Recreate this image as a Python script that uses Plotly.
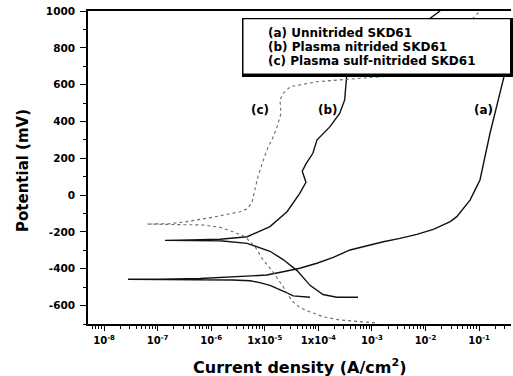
import plotly.graph_objects as go

# ---------------- data ----------------
# (a) Unnitrided SKD61  -- cathodic branch (right -> Ecorr), then anodic branch
a_current = [7.0e-5, 3.4e-5, 2.2e-5, 1.25e-5, 8.1e-6, 5.3e-6, 2.55e-6, 6.2e-7, 1.11e-7, 2.8e-8,
             1.11e-7, 6.2e-7, 2.55e-6, 1.09e-5, 2.2e-5, 4.5e-5, 9.4e-5, 1.90e-4, 3.90e-4, 8.1e-4,
             1.63e-3, 3.34e-3, 6.9e-3, 1.40e-2, 2.9e-2, 3.83e-2, 5.0e-2, 6.78e-2, 9.04e-2, 0.104,
             0.160, 0.226, 0.292, 0.469]
a_potential = [-555, -547, -522, -490, -475, -465, -461, -459, -458, -457,
               -456, -453, -443, -434, -416, -397, -370, -338, -298, -275,
               -253, -235, -213, -186, -144, -117, -77, -27, 46, 82,
               336, 517, 643, 1000]

# (b) Plasma nitrided SKD61
b_current = [5.5e-4, 2.2e-4, 1.22e-4, 7.0e-5, 4.0e-5, 2.2e-5, 1.25e-5, 8.1e-6, 4.7e-6, 1.46e-6,
             4.0e-7, 1.37e-7,
             4.0e-7, 1.46e-6, 4.7e-6, 1.25e-5, 2.6e-5, 4.5e-5, 5.87e-5, 5.0e-5, 5.87e-5, 7.9e-5,
             9.4e-5, 1.65e-4, 2.5e-4, 3.1e-4, 3.4e-4, 3.4e-4, 1.42e-3, 1.87e-2]
b_potential = [-555, -555, -540, -490, -410, -350, -305, -285, -262, -248,
               -247, -246,
               -244, -240, -226, -171, -90, 10, 70, 130, 170, 227,
               299, 372, 444, 517, 625, 660, 760, 1000]

# (c) Plasma sulf-nitrided SKD61
c_current = [1.14e-3, 5.3e-4, 2.5e-4, 1.22e-4, 7.0e-5, 4.5e-5, 3.22e-5, 2.2e-5, 1.36e-5, 9.3e-6,
             6.56e-6, 4.3e-6, 2.55e-6, 1.46e-6, 7.0e-7, 2.1e-7, 6.3e-8,
             1.70e-7, 3.5e-7, 1.08e-6, 3.44e-6, 4.7e-6, 5.77e-6, 6.3e-6, 7.46e-6, 8.87e-6,
             1.15e-5, 1.36e-5, 1.7e-5, 2.01e-5, 1.92e-5, 2.2e-5, 3.0e-5, 9.4e-5, 5.3e-4,
             7.9e-3, 0.104]
c_potential = [-694, -688, -678, -660, -635, -610, -575, -497, -410, -352,
               -280, -226, -199, -175, -162, -160, -157,
               -155, -144, -120, -90, -75, -40, 10, 100, 170,
               260, 300, 372, 444, 517, 553, 589, 616, 634,
               660, 1000]

x_tickvals = [1e-8, 1e-7, 1e-6, 1e-5, 1e-4, 1e-3, 1e-2, 1e-1]
x_ticktext = ["10<sup>-8</sup>", "10<sup>-7</sup>", "10<sup>-6</sup>", "1x10<sup>-5</sup>",
              "1x10<sup>-4</sup>", "10<sup>-3</sup>", "10<sup>-2</sup>", "10<sup>-1</sup>"]
y_tickvals = [-600, -400, -200, 0, 200, 400, 600, 800, 1000]
y_ticktext = ["-600", "-400", "-200", "0", "200", "400", "600", "800", "1000"]

legend_lines = ["(a) Unnitrided SKD61", "(b) Plasma nitrided SKD61", "(c) Plasma sulf-nitrided SKD61"]
curve_labels = ["(c)", "(b)", "(a)"]

# ---------------- figure ----------------
W, H = 513, 376
ML, MR, MT, MB = 88, 2, 11, 52
PW, PH = W - ML - MR, H - MT - MB


def px(x):
    return (x - ML) / PW


def py(y):
    return (H - MB - y) / PH


FONT = "DejaVu Sans"

fig = go.Figure()
fig.add_trace(go.Scatter(x=a_current, y=a_potential, mode="lines",
                         line=dict(color="#111111", width=1.4), hoverinfo="skip", showlegend=False))
fig.add_trace(go.Scatter(x=b_current, y=b_potential, mode="lines",
                         line=dict(color="#111111", width=1.4), hoverinfo="skip", showlegend=False))
fig.add_trace(go.Scatter(x=c_current, y=c_potential, mode="lines",
                         line=dict(color="#6a6a6a", width=1.1, dash="dot"), hoverinfo="skip", showlegend=False))

minor_x = [m * 10.0 ** e for e in range(-9, 0) for m in range(2, 10)]

fig.update_layout(
    width=W, height=H,
    margin=dict(l=ML, r=MR, t=MT, b=MB, pad=0),
    paper_bgcolor="white", plot_bgcolor="white",
    showlegend=False,
    xaxis=dict(type="log", range=[-8.30, -0.404], showgrid=False, zeroline=False,
               showline=True, linecolor="black", linewidth=1.6, mirror=True,
               ticks="outside", ticklen=5, tickwidth=1.3, tickcolor="black",
               tickvals=x_tickvals, ticktext=x_ticktext, ticklabelstandoff=1,
               tickfont=dict(family=FONT, size=10, color="black", weight="bold"),
               minor=dict(tickmode="array", tickvals=minor_x, ticks="outside", ticklen=3,
                          tickwidth=1, tickcolor="black", showgrid=False)),
    yaxis=dict(range=[-700, 1000], showgrid=False, zeroline=False,
               showline=True, linecolor="black", linewidth=1.6, mirror=False,
               ticks="outside", ticklen=6, tickwidth=1.3, tickcolor="black",
               tickvals=y_tickvals, ticktext=y_ticktext, ticklabelstandoff=3,
               tickfont=dict(family=FONT, size=10.5, color="black", weight="bold"),
               minor=dict(dtick=100, ticks="outside", ticklen=3, tickwidth=1,
                          tickcolor="black", showgrid=False)),
)

# legend box with shadow
fig.add_shape(type="rect", xref="paper", yref="paper",
              x0=px(242), x1=px(513), y0=py(77), y1=py(18),
              fillcolor="black", line=dict(width=0), layer="above")
fig.add_shape(type="rect", xref="paper", yref="paper",
              x0=px(243.5), x1=px(510), y0=py(73.5), y1=py(19.3),
              fillcolor="white", line=dict(width=0), layer="above")

for txt, ly in zip(legend_lines, [33, 47, 61]):
    fig.add_annotation(xref="paper", yref="paper", x=px(266), y=py(ly),
                       xanchor="left", yanchor="middle", align="left", showarrow=False,
                       text=txt,
                       font=dict(family=FONT, size=12, color="black", weight="bold"))

# curve labels
for lab, lx in zip(curve_labels, [260, 328, 483]):
    fig.add_annotation(xref="paper", yref="paper", x=px(lx), y=py(110),
                       xanchor="center", yanchor="middle", showarrow=False, text=lab,
                       font=dict(family=FONT, size=12, color="black", weight="bold"))

# axis titles
fig.add_annotation(xref="paper", yref="paper", x=px(300), y=py(366),
                   xanchor="center", yanchor="middle", showarrow=False,
                   text="Current density (A/cm<sup>2</sup>)",
                   font=dict(family=FONT, size=16, color="black", weight="bold"))
fig.add_annotation(xref="paper", yref="paper", x=px(23), y=py(171),
                   xanchor="center", yanchor="middle", showarrow=False, textangle=-90,
                   text="Potential (mV)",
                   font=dict(family=FONT, size=15, color="black", weight="bold"))

fig.write_html("out.html", config={"displayModeBar": False})
